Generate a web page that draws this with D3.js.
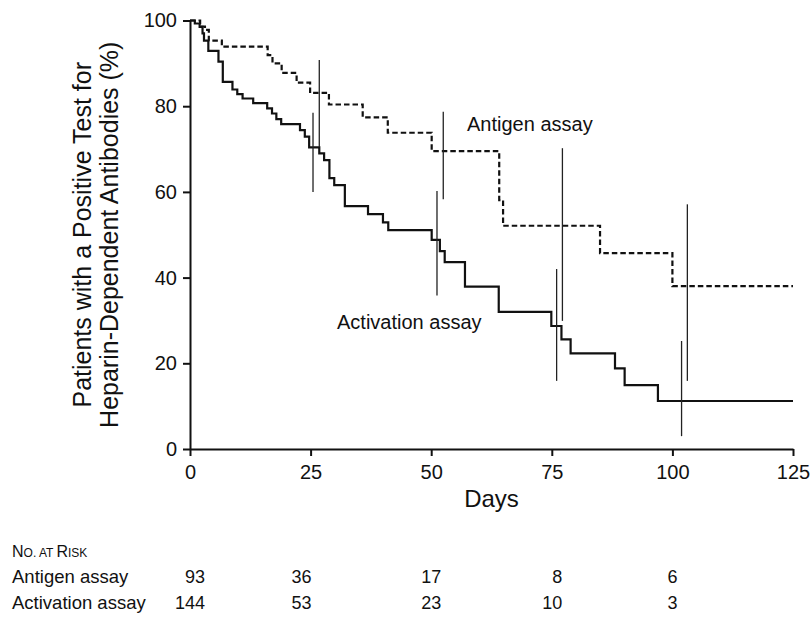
<!DOCTYPE html>
<html>
<head>
<meta charset="utf-8">
<script src="https://cdn.jsdelivr.net/npm/d3@7/dist/d3.min.js"></script>
<style>
  html, body { margin: 0; padding: 0; background: #fff; }
  svg { display: block; }
  text { font-family: "Liberation Sans", Arial, Helvetica, sans-serif; fill: #111; }
</style>
</head>
<body>
<svg id="chart" width="812" height="619"></svg>
<script>
// ---- Data ----
const antigenDays = [0, 2.1, 3.1, 3.9, 6.6, 16.1, 17.1, 19.0, 22.1, 24.9, 28.8, 35.8, 41.0, 50.1, 64.1, 64.9, 85.0, 100.0, 125];
const antigenPct  = [100, 98.6, 97.8, 95.3, 93.9, 91.9, 90.0, 87.8, 85.5, 83.1, 80.4, 77.4, 73.8, 69.5, 58.1, 52.1, 45.7, 38.0, 38.0];

const activationDays = [0, 1.0, 2.0, 2.6, 2.9, 3.8, 5.9, 6.8, 8.8, 9.8, 10.9, 13.1, 16.0, 17.0, 17.9, 18.9, 22.8, 23.8, 24.7, 26.8, 27.8, 28.9, 29.9, 32.1, 36.9, 40.0, 41.1, 50.1, 51.8, 52.8, 57.0, 64.0, 74.9, 77.0, 78.9, 88.1, 90.1, 97.0, 125];
const activationPct  = [100, 99.3, 98.5, 97.0, 95.3, 92.9, 90.4, 85.7, 83.9, 82.8, 81.8, 80.7, 79.5, 78.3, 77.0, 75.8, 74.4, 72.9, 70.4, 69.0, 67.4, 63.2, 61.6, 56.7, 54.8, 52.9, 51.1, 48.8, 46.2, 43.6, 37.9, 32.0, 28.7, 25.6, 22.3, 18.8, 14.9, 11.2, 11.2];

// confidence-interval bars
const ciDays = [25.5, 26.8, 51.2, 52.5, 76.0, 77.2, 101.9, 103.1];
const ciHigh = [78.5, 90.8, 60.2, 78.7, 42.0, 70.2, 25.2, 57.1];
const ciLow  = [60.0, 70.5, 35.8, 58.3, 15.9, 29.9, 3.0, 15.9];

const xTicks = [0, 25, 50, 75, 100, 125];
const yTicks = [0, 20, 40, 60, 80, 100];

const riskDays = [0, 25, 50, 75, 100];
const riskLabels = ["Antigen assay", "Activation assay"];
const antigenRisk = [93, 36, 17, 8, 6];
const activationRisk = [144, 53, 23, 10, 3];

// ---- Layout ----
const svg = d3.select("#chart");
const x = d3.scaleLinear().domain([0, 125]).range([190, 793]);
const y = d3.scaleLinear().domain([0, 100]).range([449, 20.5]);

// Axes
const yAxis = d3.axisLeft(y).tickValues(yTicks).tickSize(7).tickSizeOuter(0).tickPadding(6);
const xAxis = d3.axisBottom(x).tickValues(xTicks).tickSize(7).tickSizeOuter(0).tickPadding(6);

const gy = svg.append("g").attr("transform", `translate(${x(0)},0)`).call(yAxis);
const gx = svg.append("g").attr("transform", `translate(0,${y(0)})`).call(xAxis);
[gx, gy].forEach(g => {
  g.select(".domain").attr("stroke", "#111").attr("stroke-width", 2);
  g.selectAll(".tick line").attr("stroke", "#111").attr("stroke-width", 2);
  g.selectAll(".tick text").attr("font-size", 20).attr("fill", "#111")
    .attr("font-family", '"Liberation Sans", Arial, sans-serif');
});
gx.selectAll(".tick text").attr("dy", "0.85em");

// Lines
const line = d3.line().x(d => x(d[0])).y(d => y(d[1])).curve(d3.curveStepAfter);
const antigenData = antigenDays.map((d, i) => [d, antigenPct[i]]);
const activationData = activationDays.map((d, i) => [d, activationPct[i]]);

svg.append("path").datum(activationData).attr("d", line)
  .attr("fill", "none").attr("stroke", "#111").attr("stroke-width", 2.2);
svg.append("path").datum(antigenData).attr("d", line)
  .attr("fill", "none").attr("stroke", "#111").attr("stroke-width", 2.2)
  .attr("stroke-dasharray", "5.5,3");

// CI bars
svg.append("g").selectAll("line").data(ciDays).join("line")
  .attr("x1", d => x(d)).attr("x2", d => x(d))
  .attr("y1", (d, i) => y(ciHigh[i])).attr("y2", (d, i) => y(ciLow[i]))
  .attr("stroke", "#222").attr("stroke-width", 1.3);

// Annotations
svg.append("text").attr("x", 467).attr("y", 131).attr("font-size", 20).text("Antigen assay");
svg.append("text").attr("x", 337).attr("y", 329).attr("font-size", 20).text("Activation assay");

// Axis titles
svg.append("text").attr("x", x(62.5)).attr("y", 507).attr("text-anchor", "middle")
  .attr("font-size", 24).text("Days");
const ty = svg.append("g").attr("transform", `translate(0,${y(50)}) rotate(-90)`);
ty.append("text").attr("x", 0).attr("y", 91).attr("text-anchor", "middle").attr("font-size", 25)
  .text("Patients with a Positive Test for");
ty.append("text").attr("x", 0).attr("y", 118).attr("text-anchor", "middle").attr("font-size", 25)
  .text("Heparin-Dependent Antibodies (%)");

// Number at risk table
const head = svg.append("text").attr("x", 12).attr("y", 557).attr("font-size", 16);
head.append("tspan").text("N");
head.append("tspan").attr("font-size", 12).text("O. AT ");
head.append("tspan").text("R");
head.append("tspan").attr("font-size", 12).text("ISK");

const rowY = [583, 609];
const colOffsets = [15, 1, 10, 10.5, 5];
[antigenRisk, activationRisk].forEach((vals, r) => {
  svg.append("text").attr("x", 12).attr("y", rowY[r]).attr("font-size", 18.5).text(riskLabels[r]);
  svg.append("g").selectAll("text").data(vals).join("text")
    .attr("x", (d, i) => x(riskDays[i]) + colOffsets[i])
    .attr("y", rowY[r]).attr("text-anchor", "end").attr("font-size", 18)
    .text(d => d);
});
</script>
</body>
</html>
